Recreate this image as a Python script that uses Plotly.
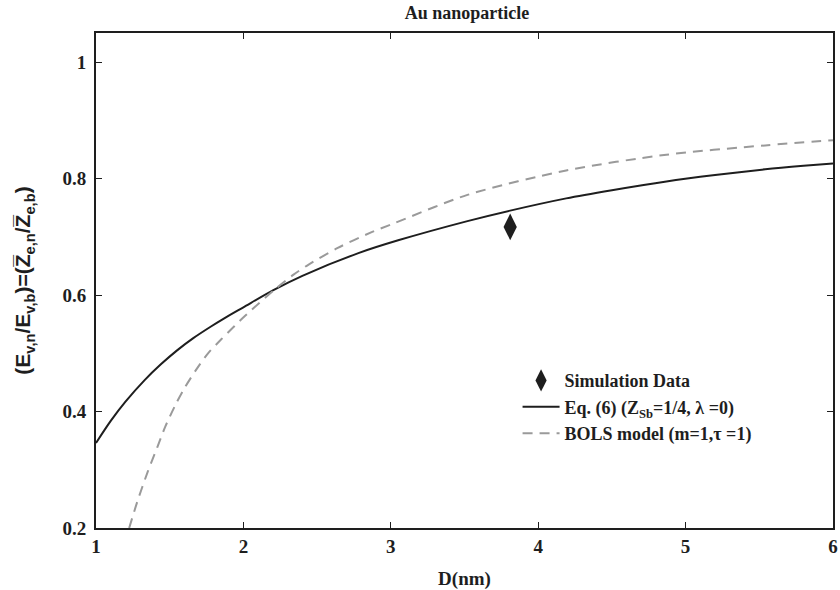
import plotly.graph_objects as go

# Eq. (6) curve, Z_Sb = 1/4, lambda = 0
eq6_d = [1.0, 1.1, 1.2, 1.33, 1.44, 1.55, 1.66, 1.78, 1.87, 2.0, 2.2, 2.4, 2.78,
         3.05, 3.52, 3.81, 4.19, 4.5, 4.87, 5.2, 5.54, 5.8, 6.0]
eq6_val = [0.346, 0.384, 0.417, 0.454, 0.481, 0.505, 0.526, 0.546, 0.560, 0.579, 0.608,
           0.633, 0.672, 0.694, 0.727, 0.745, 0.766, 0.780, 0.795, 0.806, 0.816, 0.822, 0.826]

# BOLS model, m = 1, tau = 1
bols_d = [1.225, 1.28, 1.35, 1.415, 1.47, 1.54, 1.6, 1.68, 1.76, 1.85, 1.94, 2.01, 2.21,
          2.34, 2.44, 2.64, 2.87, 3.02, 3.52, 4.19, 4.87, 5.54, 6.0]
bols_val = [0.200, 0.245, 0.296, 0.338, 0.374, 0.412, 0.440, 0.472, 0.500, 0.524, 0.547,
            0.564, 0.609, 0.635, 0.652, 0.681, 0.708, 0.723, 0.772, 0.814, 0.841, 0.857, 0.866]

# Simulation result
sim_d = [3.81]
sim_val = [0.717]

x_ticks = [1, 2, 3, 4, 5, 6]
x_tick_text = ["<b>1</b>", "<b>2</b>", "<b>3</b>", "<b>4</b>", "<b>5</b>", "<b>6</b>"]
y_ticks = [0.2, 0.4, 0.6, 0.8, 1.0]
y_tick_text = ["<b>0.2</b>", "<b>0.4</b>", "<b>0.6</b>", "<b>0.8</b>", "<b>1</b>"]

serif = "Liberation Serif, Times New Roman, serif"
sans = "Liberation Sans, Arial, sans-serif"
ink = "#1e1e1e"

fig = go.Figure()
fig.add_trace(go.Scatter(
    x=sim_d, y=sim_val, mode="markers", name="<b>Simulation Data</b>",
    marker=dict(symbol="diamond-tall", size=19, color=ink),
))
fig.add_trace(go.Scatter(
    x=eq6_d, y=eq6_val, mode="lines",
    name="<b>Eq. (6) (Z<sub>Sb</sub>=1/4, \u03bb =0)</b>",
    line=dict(color=ink, width=2, shape="spline", smoothing=0.8),
))
fig.add_trace(go.Scatter(
    x=bols_d, y=bols_val, mode="lines",
    name="<b>BOLS model (m=1,\u03c4 =1)</b>",
    line=dict(color="#9a9a9a", width=2, dash="10px,7px", shape="spline", smoothing=0.8),
))

axis_common = dict(
    showline=True, mirror="ticks", linecolor=ink, linewidth=2,
    ticks="inside", ticklen=6, tickwidth=1, tickcolor=ink,
    showgrid=False, zeroline=False, ticklabeloverflow="allow",
    tickfont=dict(family=serif, size=19, color=ink),
)

fig.update_layout(
    width=840, height=590,
    margin=dict(l=96, r=2, t=33, b=62),
    paper_bgcolor="white", plot_bgcolor="white",
    title=dict(text="<b>Au nanoparticle</b>", x=0.556, xanchor="center",
               y=1 - 13 / 590, yanchor="middle", yref="container",
               font=dict(family=serif, size=18, color=ink)),
    xaxis=dict(range=[1, 6], tickvals=x_ticks, ticktext=x_tick_text,
               ticklabelstandoff=0,
               title=dict(text="<b>D(nm)</b>", standoff=16,
                          font=dict(family=serif, size=19, color=ink)),
               **axis_common),
    yaxis=dict(range=[0.2, 1.05], tickvals=y_ticks, ticktext=y_tick_text,
               ticklabelstandoff=4,
               title=dict(text="<b>(E<sub>v,n</sub>/E<sub>v,b</sub>)=(Z\u0305<sub>e,n</sub>/Z\u0305<sub>e,b</sub>)</b>",
                          standoff=26,
                          font=dict(family=sans, size=21, color=ink)),
               **axis_common),
    showlegend=True,
    legend=dict(x=0.572, y=0.335, xanchor="left", yanchor="top",
                bgcolor="rgba(0,0,0,0)", borderwidth=0,
                tracegroupgap=0, itemwidth=37,
                font=dict(family=serif, size=18, color=ink)),
)

fig.write_html("out.html")
